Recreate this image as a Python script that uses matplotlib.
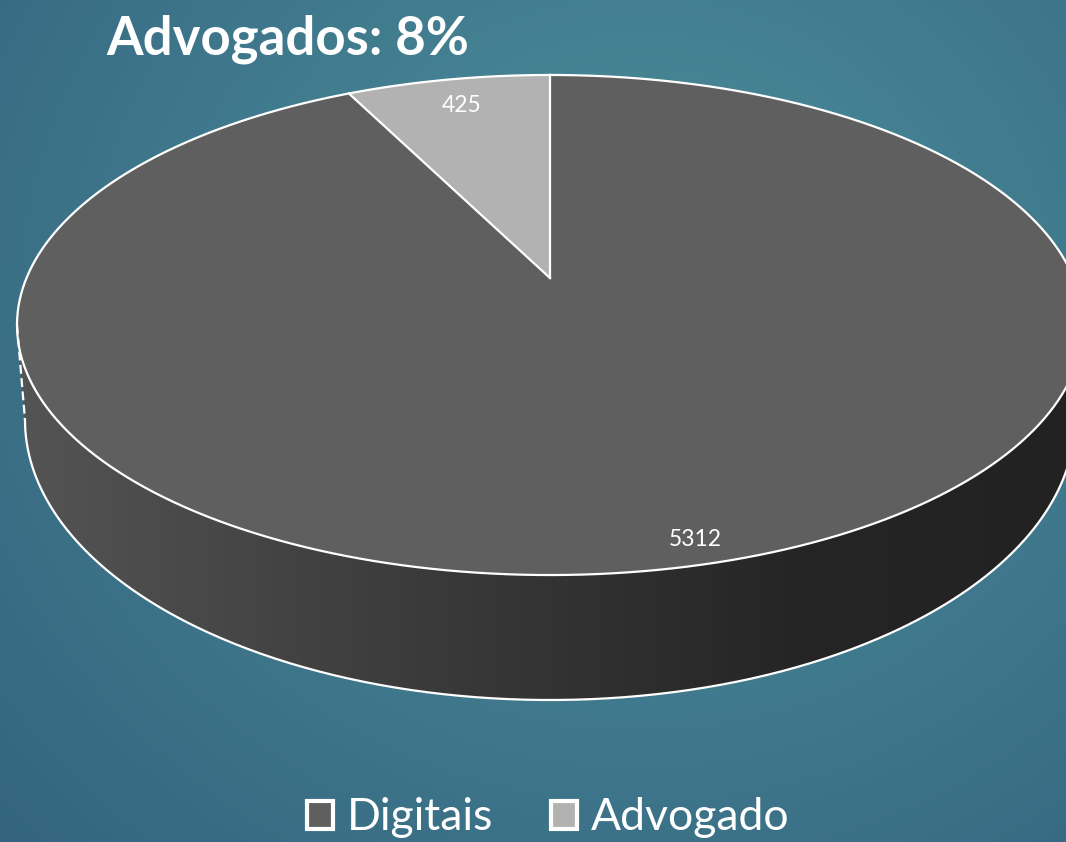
import numpy as np
import matplotlib.pyplot as plt
from matplotlib.patches import Polygon, Patch

categories = ["Digitais", "Advogado"]
values = [5312, 425]
slice_colors = ["#5f5f5f", "#b2b2b2"]
title_text = "Advogados: 8%"

plt.rcParams['font.family'] = ['Lato', 'DejaVu Sans']

W, H = 1066, 842
fig = plt.figure(figsize=(W / 100, H / 100), dpi=100)
ax = fig.add_axes([0, 0, 1, 1])
ax.set_xlim(0, W)
ax.set_ylim(H, 0)
ax.axis('off')

# background gradient
yy, xx = np.mgrid[0:H, 0:W]
d = np.hypot(xx - 640, (yy - 300) * 1.1)
t = np.clip(d / 950, 0, 1)[..., None]
light = np.array([76, 144, 156]) / 255
dark = np.array([50, 96, 124]) / 255
bg = light * (1 - t) + dark * t
ax.imshow(bg, extent=(0, W, H, 0), zorder=0, aspect='auto', interpolation='bilinear')

# perspective projection of the pie disc
cx, cy = 550, 278
k = 0.188
A, B = 523.5, 241.2
bcx, bcy, ba, bb = 550, 420, 525, 280


def proj(phi_deg, r=1.0):
    p = np.radians(phi_deg)
    x = -r * np.sin(p)
    y = r * np.cos(p)
    w = 1 + k * y
    return cx + A * x / w, cy - B * y / w


# side wall
phiL = np.degrees(np.arccos(-k))
phiR = 360 - phiL
ph = np.linspace(phiL, phiR, 300)
tx, ty = proj(ph)
th = np.linspace(0, np.pi, 300)
bx = bcx + ba * np.cos(th)
by = bcy + bb * np.sin(th)
side_x = np.concatenate([tx, bx])
side_y = np.concatenate([ty, by])
side_poly = Polygon(np.column_stack([side_x, side_y]), closed=True,
                    facecolor='none', edgecolor='none', zorder=2)
ax.add_patch(side_poly)
gx = np.arange(W)
gv = np.interp(gx, [20, 300, 550, 800, 1066], [84, 66, 51, 37, 34]) / 255
grad = np.tile(gv, (H, 1))
im = ax.imshow(np.dstack([grad, grad, grad]), extent=(0, W, H, 0), zorder=2,
               aspect='auto')
im.set_clip_path(side_poly)

# top face slices (clockwise from 12 o'clock)
total = sum(values)
start = 0.0
mids = []
for v, c in zip(values, slice_colors):
    span = 360.0 * v / total
    a0, a1 = start, start + span
    phis = 360 - np.linspace(a0, a1, 400)
    px, py = proj(phis)
    poly = np.column_stack([np.concatenate([[cx], px]), np.concatenate([[cy], py])])
    ax.add_patch(Polygon(poly, closed=True, facecolor=c, edgecolor='none', zorder=3))
    mids.append(360 - (a0 + a1) / 2)
    start = a1

# white edges
lw = 1.6
allphi = np.linspace(0, 360, 800)
ex, ey = proj(allphi)
ax.plot(ex, ey, color='white', lw=lw, zorder=4)
start = 0.0
for v in values:
    bxp, byp = proj(360 - start)
    ax.plot([cx, bxp], [cy, byp], color='white', lw=lw, zorder=4)
    start += 360.0 * v / total
ax.plot(bx, by, color='white', lw=lw, zorder=4)
lx, ly = proj(phiL)
rx, ry = proj(phiR)
ax.plot([lx, bcx - ba], [ly, bcy], color='white', lw=lw, ls=(0, (4, 2)), zorder=4)
ax.plot([rx, bcx + ba], [ry, bcy], color='white', lw=lw, ls=(0, (4, 2)), zorder=4)

# data labels
label_r = [0.93, 0.84]
label_dx = [10, 0]
for v, m, r, dx in zip(values, mids, label_r, label_dx):
    lxp, lyp = proj(m, r)
    ax.text(lxp + dx, lyp - 2, str(v), color='white', fontsize=16.5,
            ha='center', va='center', zorder=5)

# title
ax.text(106, 54, title_text, color='white', fontsize=38, fontweight='bold',
        ha='left', va='baseline', zorder=5)

# legend
handles = [Patch(facecolor=c, edgecolor='white', linewidth=3) for c in slice_colors]
leg = ax.legend(handles, categories, loc='center', bbox_to_anchor=(548 / W, 1 - 818 / H),
                bbox_transform=fig.transFigure, ncol=2, frameon=False, fontsize=32,
                labelcolor='white', handlelength=0.6, handleheight=0.6,
                columnspacing=1.3, handletextpad=0.3)
leg.set_zorder(6)

fig.savefig('out.png', dpi=100)
